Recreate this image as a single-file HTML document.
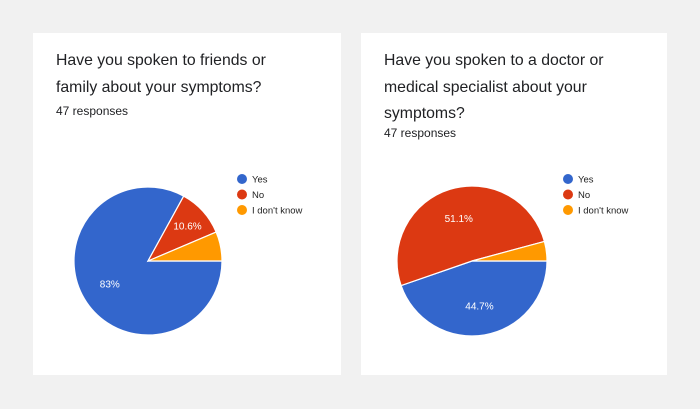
<!DOCTYPE html>
<html><head><meta charset="utf-8"><style>
body{margin:0;width:700px;height:409px;background:#f1f1f1;font-family:"Liberation Sans",Arial,sans-serif;position:relative;overflow:hidden}
.card{position:absolute;top:33px;height:342px;background:#fff}
.t{position:absolute;left:23px;top:15px;font-size:15.8px;line-height:26.5px;color:#202124;width:250px}
.r{position:absolute;left:23px;font-size:12px;color:#202124}
svg{position:absolute;left:0;top:0}
</style></head><body>
<div class="card" style="left:33px;width:308px">
<div class="t">Have you spoken to friends or family about your symptoms?</div>
<div class="r" style="top:71px">47 responses</div>
<svg id="p1" width="308" height="342"></svg>
</div>
<div class="card" style="left:361px;width:306px">
<div class="t" style="width:250px">Have you spoken to a doctor or medical specialist about your symptoms?</div>
<div class="r" style="top:93px">47 responses</div>
<svg id="p2" width="306" height="342"></svg>
</div>
<script>
const categories=["Yes","No","I don't know"];
const colors=["#3366cc","#dc3912","#ff9900"];
const friendsValues=[83,10.6,6.4];
const doctorValues=[44.7,51.1,4.2];
const NS="http://www.w3.org/2000/svg";
function mk(t,a){const e=document.createElementNS(NS,t);for(const k in a)e.setAttribute(k,a[k]);return e;}
function draw(id,vals,cx,cy,r,lx){
  const svg=document.getElementById(id);
  const tot=vals.reduce((a,b)=>a+b,0);
  let a0=0;
  vals.forEach((v,i)=>{
    const a1=a0+v/tot*2*Math.PI;
    const x0=cx+r*Math.cos(a0),y0=cy+r*Math.sin(a0),x1=cx+r*Math.cos(a1),y1=cy+r*Math.sin(a1);
    const p=mk('path',{d:`M${cx},${cy}L${x0},${y0}A${r},${r} 0 ${a1-a0>Math.PI?1:0} 1 ${x1},${y1}Z`,fill:colors[i],stroke:'#fff','stroke-width':1.2});
    
    
    svg.appendChild(p);
    if(v/tot>0.08){
      const m=(a0+a1)/2,lr=r*(v/tot<0.3?0.72:0.6);
      const t=mk('text',{x:cx+lr*Math.cos(m),y:cy+lr*Math.sin(m)+4,'text-anchor':'middle','font-size':10,fill:'#fff','font-family':'Liberation Sans, sans-serif'});
      t.textContent=(Math.round(v*10)/10)+'%';
      
      
      svg.appendChild(t);
    }
    a0=a1;
  });
  categories.forEach((c,i)=>{
    const g=mk('g',{});
    
    
    g.appendChild(mk('circle',{cx:lx,cy:146+i*15.5,r:5,fill:colors[i]}));
    const t=mk('text',{x:lx+10,y:149.5+i*15.5,'font-size':9.5,fill:'#222','font-family':'Liberation Sans, sans-serif'});
    t.textContent=c;g.appendChild(t);svg.appendChild(g);
  });
}
draw('p1',friendsValues,115,228,74,209);
draw('p2',doctorValues,111,228,75,207);
</script>
</body></html>
